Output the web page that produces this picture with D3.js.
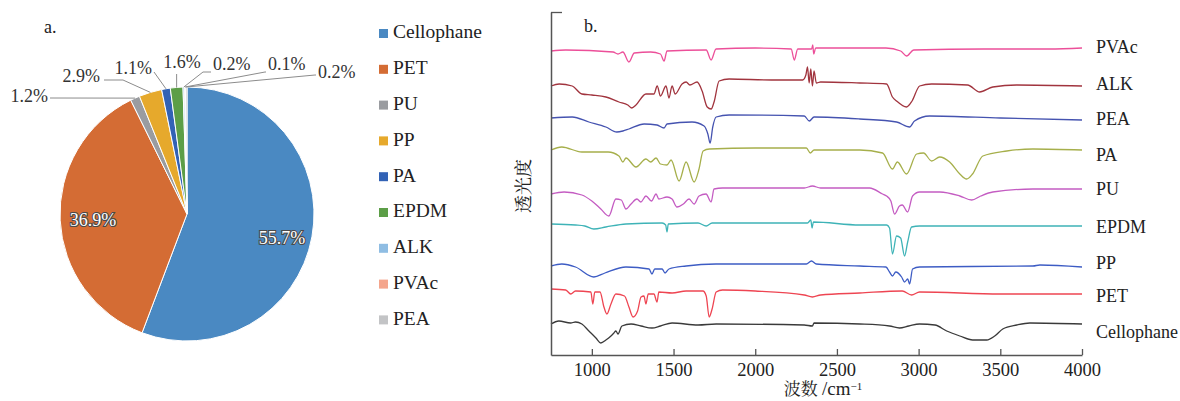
<!DOCTYPE html>
<html>
<head>
<meta charset="utf-8">
<script src="https://cdn.jsdelivr.net/npm/d3@7"></script>
<style>
  body { margin: 0; background: #fff; }
  svg text { font-family: "Liberation Serif", "Tinos", "Times New Roman", "DejaVu Serif", "Noto Serif", serif; }
  svg text.cjk, svg tspan.cjk { font-family: "Noto Serif CJK SC", "Noto Sans CJK SC", sans-serif; }
</style>
</head>
<body>
<svg id="contenedor"></svg>
<script>
// ---- pie data (a.) ----
let pieCategorias = ["Cellophane", "PET", "PU", "PP", "PA", "EPDM", "ALK", "PVAc", "PEA"];
let pieValores = [55.7, 36.9, 1.2, 2.9, 1.1, 1.6, 0.2, 0.1, 0.2];
let pieColores = ["#4a89c2", "#d46c34", "#9a9ca0", "#e6a92c", "#3262b5", "#5c9e47", "#8fbde3", "#f4a58c", "#c3c4c6"];

// ---- spectra data (b.) : [wavenumber, transmittance a.u.] ----
let seriesNombres = ["PVAc", "ALK", "PEA", "PA", "PU", "EPDM", "PP", "PET", "Cellophane"];
let seriesColores = ["#ec4f99", "#a1343e", "#4553b0", "#a6af4b", "#c45cc2", "#3eb3b7", "#3d5cc4", "#ee4552", "#3a3a3a"];
let xTicks = [1000, 1500, 2000, 2500, 3000, 3500, 4000];

let espPVAc = [[750,304],[840,305],[1130,303],[1160,301],[1190,303],[1227,293],[1260,302],[1360,303],[1420,301],[1442,294],[1460,304],[1700,305],[1730,295],[1760,306],[2000,307],[2220,306],[2239,295],[2260,306],[2345,306],[2352,310],[2358,301],[2370,307],[2800,307],[2890,304],[2926,299],[2970,305],[3400,306],[3800,306],[4000,307]];
let espALK = [[750,269],[800,271],[880,269],[939,261],[1000,260],[1086,258],[1166,253],[1220,250],[1245,247],[1270,250],[1331,261],[1380,261],[1400,269],[1420,259],[1454,269],[1472,257],[1491,269],[1510,261],[1552,271],[1577,273],[1600,270],[1644,273],[1675,264],[1706,248],[1730,246],[1748,253],[1779,274],[1840,276],[2100,275],[2290,275],[2310,280],[2320,288],[2330,272],[2340,286],[2350,269],[2360,284],[2374,272],[2400,273],[2640,272],[2804,271],[2840,258],[2865,254],[2926,248],[2960,254],[3006,269],[3080,271],[3300,270],[3374,263],[3454,268],[3600,270],[4000,269]];
let espPEA = [[750,237],[880,238],[982,233],[1086,228],[1153,223],[1190,224],[1227,226],[1320,231],[1399,230],[1442,227],[1460,231],[1613,233],[1687,229],[1710,221],[1724,212],[1740,228],[1761,238],[1840,240],[2300,239],[2331,234],[2360,238],[2640,236],[2865,233],[2945,228],[2975,234],[3067,239],[3500,237],[4000,235]];
let espPA = [[750,205],[816,208],[939,203],[1100,203],[1166,199],[1190,193],[1209,197],[1270,188],[1331,196],[1360,193],[1393,197],[1420,191],[1460,190],[1485,195],[1534,174],[1577,193],[1626,173],[1656,186],[1681,204],[1720,206],[2000,207],[2313,207],[2337,202],[2360,205],[2640,205],[2779,202],[2840,186],[2870,193],[2926,181],[2988,201],[3030,202],[3080,194],[3129,198],[3190,193],[3252,181],[3294,176],[3330,181],[3393,199],[3540,204],[3700,206],[4000,205]];
let espPU = [[750,161],[830,163],[939,160],[1000,154],[1055,146],[1104,139],[1147,156],[1180,155],[1209,146],[1240,151],[1276,156],[1300,153],[1331,159],[1365,154],[1393,161],[1410,156],[1460,158],[1491,156],[1521,148],[1560,151],[1595,156],[1626,151],[1656,159],[1699,161],[1730,153],[1748,166],[1800,167],[2300,167],[2350,169],[2400,167],[2700,167],[2779,161],[2804,159],[2830,154],[2853,141],[2883,149],[2900,150],[2933,143],[2963,159],[3006,163],[3130,163],[3252,159],[3325,155],[3380,159],[3454,163],[3700,166],[4000,166]];
let espEPDM = [[750,131],[900,130],[957,129],[1012,126],[1086,128],[1209,131],[1430,132],[1452,130],[1460,123],[1468,131],[1650,132],[1700,129],[1736,132],[2320,132],[2340,135],[2348,127],[2356,133],[2640,130],[2804,130],[2822,127],[2840,101],[2865,119],[2890,117],[2914,99],[2933,113],[2957,128],[3006,129],[4000,129]];
let espPP = [[750,89],[816,91],[900,88],[1012,78],[1080,82],[1209,88],[1350,86],[1368,81],[1385,86],[1430,86],[1448,82],[1472,86],[1577,89],[1760,91],[2313,91],[2344,94],[2374,91],[2640,89],[2800,88],[2822,83],[2840,79],[2860,83],[2896,78],[2914,73],[2933,76],[2945,71],[2963,86],[3006,88],[3700,89],[3742,90],[4000,88]];
let espPET = [[750,66],[840,65],[871,61],[900,64],[994,63],[1006,51],[1018,63],[1050,63],[1074,48],[1092,41],[1117,51],[1147,61],[1200,59],[1227,48],[1252,38],[1280,44],[1301,58],[1319,59],[1331,51],[1345,61],[1380,61],[1399,53],[1410,63],[1491,62],[1577,64],[1680,64],[1700,59],[1718,38],[1736,46],[1761,63],[1800,65],[2000,64],[2300,60],[2350,58],[2400,60],[2640,62],[2900,64],[2957,60],[3006,63],[3500,61],[4000,61]];
let espCellophane = [[750,31],[798,34],[870,32],[900,33],[939,31],[982,24],[1025,17],[1055,12],[1086,15],[1117,19],[1135,22],[1147,24],[1160,21],[1184,29],[1240,31],[1301,29],[1368,27],[1420,29],[1491,32],[1650,30],[1761,31],[2300,30],[2350,29],[2360,32],[2640,31],[2822,29],[2883,27],[2940,29],[3006,31],[3100,30],[3172,24],[3252,19],[3331,15],[3417,15],[3466,19],[3515,26],[3601,30],[3681,32],[4000,31]];

let espectros = [espPVAc, espALK, espPEA, espPA, espPU, espEPDM, espPP, espPET, espCellophane];

// configuracion general
function getConfig() {
  let width = 1180;
  let height = 401;
  let container = d3.select("#contenedor").attr("width", width).attr("height", height);
  return { width, height, container };
} // fin getConfig

// ---------- panel a. : pie ----------
function dibujarPie(config) {
  let { container } = config;
  let cx = 187, cy = 214, r = 127;

  let datos = pieCategorias.map((c, i) => ({ nombre: c, valor: pieValores[i], color: pieColores[i] }));
  let pie = d3.pie().sort(null).value((d) => d.valor);
  let arcos = pie(datos);
  let arc = d3.arc().innerRadius(0).outerRadius(r);
  let arcBorde = d3.arc().innerRadius(r).outerRadius(r);

  let g = container.append("g").attr("transform", `translate(${cx},${cy})`);

  g.selectAll("path")
    .data(arcos)
    .enter()
    .append("path")
    .attr("d", arc)
    .attr("fill", (d) => d.data.color)
    .attr("stroke", "#fff")
    .attr("stroke-width", 1);

  // etiquetas internas
  let internas = { Cellophane: [95, 26], PET: [-94, 8] };
  Object.keys(internas).forEach((k) => {
    let d = arcos.find((a) => a.data.nombre === k);
    g.append("text")
      .attr("x", internas[k][0])
      .attr("y", internas[k][1])
      .attr("text-anchor", "middle")
      .attr("dominant-baseline", "middle")
      .attr("font-size", "18px")
      .attr("fill", "#fff")
      .attr("stroke", "#4a4a4a")
      .attr("stroke-width", 2.2)
      .attr("paint-order", "stroke")
      .text(d.data.valor.toFixed(1) + "%");
  });

  // etiquetas externas con lineas guia: [texto x, texto y, ancla, codo x, codo y] (relativo al centro)
  let externas = {
    PU: [-139, -116, "end", -136, -116],
    PP: [-87, -136, "end", -64, -134],
    PA: [-35, -144, "end", -35, -142],
    EPDM: [-5, -150, "middle", -10, -140],
    ALK: [26, -148, "start", 16, -142],
    PVAc: [81, -148, "start", 78, -142],
    PEA: [131, -140, "start", 128, -139],
  };

  Object.keys(externas).forEach((k) => {
    let d = arcos.find((a) => a.data.nombre === k);
    let [tx, ty, ancla, kx, ky] = externas[k];
    let p = arcBorde.centroid(d);
    let puntos;
    if (k === "EPDM") puntos = [[p[0], p[1]], [p[0], -140]];
    else if (k === "PU") puntos = [[p[0], p[1]], [kx, ky], [tx + 2, ty]];
    else if (k === "PP") puntos = [[p[0], p[1]], [kx, ky], [tx + 4, ky]];
    else if (k === "PA") puntos = [[p[0], p[1]], [tx + 2, ty + 2]];
    else puntos = [[p[0], p[1]], [kx, ky], [tx - 2, ky]];

    g.append("path")
      .attr("d", d3.line()(puntos))
      .attr("fill", "none")
      .attr("stroke", "#8c8c8c")
      .attr("stroke-width", 1);

    g.append("text")
      .attr("x", tx)
      .attr("y", ty)
      .attr("text-anchor", ancla)
      .attr("dominant-baseline", "middle")
      .attr("font-size", "18px")
      .attr("fill", "#333")
      .text(d.data.valor.toFixed(1) + "%");
  });

  // leyenda
  let leyenda = container.append("g").attr("transform", "translate(379,29)");
  let item = leyenda.selectAll("g").data(datos).enter().append("g")
    .attr("transform", (d, i) => `translate(0,${i * 35.8})`);
  item.append("rect").attr("width", 9).attr("height", 9).attr("fill", (d) => d.color);
  item.append("text")
    .attr("x", 14)
    .attr("y", 5)
    .attr("dominant-baseline", "middle")
    .attr("font-size", "19.5px")
    .attr("fill", "#222")
    .text((d) => d.nombre);

  container.append("text").attr("x", 44).attr("y", 33).attr("font-size", "18px").attr("fill", "#222").text("a.");
} // fin dibujarPie

// ---------- panel b. : espectros ----------
function dibujarEspectros(config) {
  let { container } = config;
  let margin = { left: 551, right: 1082, top: 12, bottom: 355 };

  let xScale = d3.scaleLinear().domain([750, 4000]).range([margin.left, margin.right]);
  let yScale = d3.scaleLinear().domain([0, 343]).range([margin.bottom, margin.top]);

  let linea = d3.line()
    .x((d) => xScale(d[0]))
    .y((d) => yScale(d[1]))
    .curve(d3.curveMonotoneX);

  container.append("g")
    .selectAll("path")
    .data(espectros)
    .enter()
    .append("path")
    .attr("d", linea)
    .attr("fill", "none")
    .attr("stroke", (d, i) => seriesColores[i])
    .attr("stroke-width", 1.3);

  // nombres al final de cada curva
  let posY = [49, 86, 121, 157, 191, 229, 265, 298, 334];
  container.append("g")
    .selectAll("text")
    .data(seriesNombres)
    .enter()
    .append("text")
    .attr("x", 1096)
    .attr("y", (d, i) => posY[i])
    .attr("dominant-baseline", "middle")
    .attr("font-size", "18px")
    .attr("fill", "#222")
    .text((d) => d);

  // eje x
  let axisX = d3.axisBottom(xScale).tickValues(xTicks).tickFormat(d3.format("d"))
    .tickSizeInner(-6).tickSizeOuter(0).tickPadding(8);
  let gx = container.append("g").attr("transform", `translate(0,${margin.bottom})`).call(axisX);
  gx.attr("font-family", null).attr("font-size", null);
  gx.select(".domain").attr("stroke", "#555").attr("stroke-width", 1.5);
  gx.selectAll(".tick line").attr("stroke", "#555").attr("stroke-width", 1.3);
  gx.selectAll(".tick text")
    .attr("font-size", "18.5px")
    .attr("fill", "#222");

  // eje y (sin etiquetas)
  let axisY = d3.axisLeft(yScale).tickValues([343]).tickSizeInner(-11).tickSizeOuter(0).tickFormat("");
  let gy = container.append("g").attr("transform", `translate(${margin.left},0)`).call(axisY);
  gy.select(".domain").attr("stroke", "#555").attr("stroke-width", 1.5);
  gy.selectAll(".tick line").attr("stroke", "#555").attr("stroke-width", 1.3);

  // titulos
  container.append("text")
    .attr("class", "cjk")
    .attr("transform", "translate(530,186) rotate(-90)")
    .attr("text-anchor", "middle")
    .attr("font-size", "18px")
    .attr("fill", "#222")
    .text("透光度");

  let tx = container.append("text")
    .attr("x", 823)
    .attr("y", 395)
    .attr("text-anchor", "middle")
    .attr("font-size", "19px")
    .attr("fill", "#222");
  tx.append("tspan").attr("class", "cjk").attr("font-size", "17px").text("波数 ");
  tx.append("tspan").text("/cm");
  tx.append("tspan").attr("dy", -5).attr("font-size", "11px").text("−1");

  container.append("text").attr("x", 584).attr("y", 32).attr("font-size", "18px").attr("fill", "#222").text("b.");
} // fin dibujarEspectros

function dibujarChart() {
  let config = getConfig();
  dibujarPie(config);
  dibujarEspectros(config);
} // fin dibujarChart

dibujarChart();
</script>
</body>
</html>
